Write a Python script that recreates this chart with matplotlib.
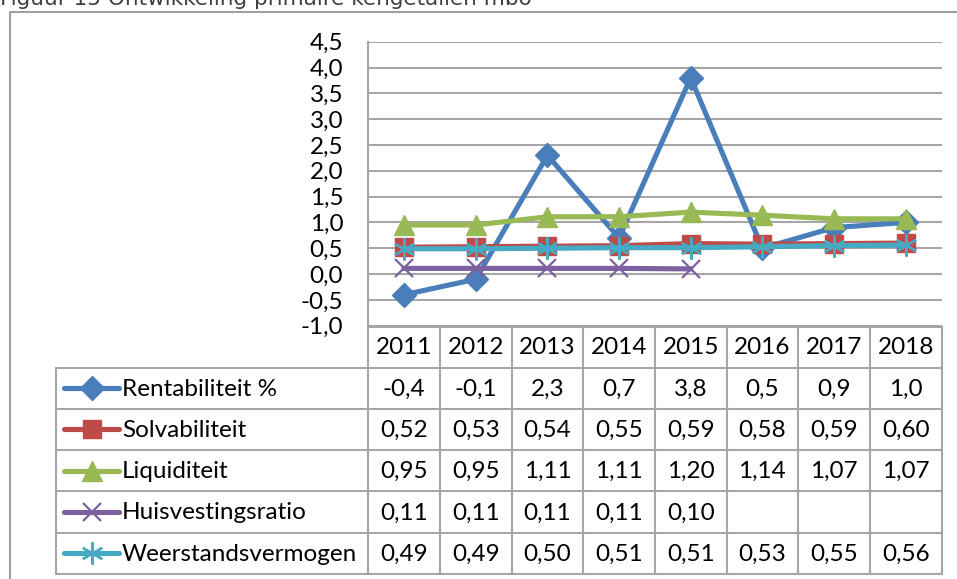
import matplotlib
matplotlib.use('Agg')
import matplotlib.pyplot as plt
import numpy as np

years = ['2011', '2012', '2013', '2014', '2015', '2016', '2017', '2018']
series_names = ['Rentabiliteit %', 'Solvabiliteit', 'Liquiditeit', 'Huisvestingsratio', 'Weerstandsvermogen']
rentabiliteit = [-0.4, -0.1, 2.3, 0.7, 3.8, 0.5, 0.9, 1.0]
solvabiliteit = [0.52, 0.53, 0.54, 0.55, 0.59, 0.58, 0.59, 0.60]
liquiditeit = [0.95, 0.95, 1.11, 1.11, 1.20, 1.14, 1.07, 1.07]
huisvesting = [0.11, 0.11, 0.11, 0.11, 0.10, None, None, None]
weerstand = [0.49, 0.49, 0.50, 0.51, 0.51, 0.53, 0.55, 0.56]
decimals = [1, 2, 2, 2, 2]
yticks = np.arange(-1.0, 4.51, 0.5)

colors = ['#4A7EBB', '#BE4B48', '#98B954', '#7D60A0', '#46AAC5']
markers = ['D', 's', '^', 'x', (6, 2, 0)]
msizes = [12, 13.5, 14, 13, 16]
medge = [1, 1, 1, 1.6, 1.6]

all_series = [rentabiliteit, solvabiliteit, liquiditeit, huisvesting, weerstand]

W, H = 957, 579
fig = plt.figure(figsize=(W / 100, H / 100), dpi=100)
font = 'Lato'
fs = 17.5
grid_col = '#A6A6A6'

# background axes in pixel coordinates
bg = fig.add_axes([0, 0, 1, 1])
bg.set_xlim(0, W)
bg.set_ylim(H, 0)
bg.axis('off')

# outer chart frame
bg.plot([10, 10, W + 5], [H + 5, 12, 12], color='#A0A0A0', lw=1.5)
bg.text(0, 5, 'Figuur 15 Ontwikkeling primaire kengetallen mbo', fontsize=15.5,
        color='#404040', family='DejaVu Sans', va='baseline', ha='left')

# plot area geometry (pixels)
x0, x1 = 368.3, 941.5
ytop, ybot = 41.7, 325.7
colw = (x1 - x0) / len(years)

ax = fig.add_axes([x0 / W, 1 - ybot / H, (x1 - x0) / W, (ybot - ytop) / H])
ax.set_xlim(-0.5, len(years) - 0.5)
ax.set_ylim(-1.0, 4.5)
ax.set_yticks(yticks)
ax.set_yticklabels([('%.1f' % v).replace('.', ',') for v in yticks], fontsize=fs, family=font)
ax.tick_params(axis='y', length=0, pad=18)
ax.set_xticks([])
for s in ['top', 'right', 'bottom']:
    ax.spines[s].set_visible(False)
ax.spines['left'].set_color(grid_col)
ax.spines['left'].set_linewidth(1.5)
ax.yaxis.grid(True, color=grid_col, lw=1.5)
ax.set_axisbelow(True)
ax.patch.set_alpha(0)

x = np.arange(len(years))
for vals, c, m, ms, me in zip(all_series, colors, markers, msizes, medge):
    v = np.array([np.nan if a is None else a for a in vals])
    ax.plot(x, v, color=c, lw=3.7, marker=m, markersize=ms, markeredgewidth=me,
            markerfacecolor=c, markeredgecolor=c, clip_on=False)

# data table
tl = 55.5
row_lines = [326.5, 367.5, 408.8, 450.0, 491.3, 532.5, 573.8]
lc = '#A6A6A6'
bg.plot([x0, x1], [row_lines[0], row_lines[0]], color=lc, lw=1.5)
for i in range(1, len(row_lines)):
    bg.plot([tl, x1], [row_lines[i], row_lines[i]], color=lc, lw=1.5)
bg.plot([tl, tl], [row_lines[1], row_lines[-1]], color=lc, lw=1.5)
for j in range(len(years) + 1):
    xx = x0 + j * colw
    bg.plot([xx, xx], [row_lines[0], row_lines[-1]], color=lc, lw=1.5)

for j, yr in enumerate(years):
    bg.text(x0 + (j + 0.5) * colw, (row_lines[0] + row_lines[1]) / 2 + 1, yr,
            ha='center', va='center', fontsize=fs, family=font, color='black')

for i, (name, vals, d) in enumerate(zip(series_names, all_series, decimals)):
    yc = (row_lines[i + 1] + row_lines[i + 2]) / 2 + 1
    # legend key
    bg.plot([64, 119], [yc - 1, yc - 1], color=colors[i], lw=3.7, solid_capstyle='round')
    bg.plot([91.5], [yc - 1], color=colors[i], marker=markers[i], markersize=msizes[i],
            markeredgewidth=medge[i])
    bg.text(122, yc, name, ha='left', va='center', fontsize=fs, family=font, color='black')
    for j, v in enumerate(vals):
        if v is None:
            continue
        txt = ('%.*f' % (d, v)).replace('.', ',')
        bg.text(x0 + (j + 0.5) * colw, yc, txt, ha='center', va='center',
                fontsize=fs, family=font, color='black')

fig.savefig('out.png', dpi=100)
